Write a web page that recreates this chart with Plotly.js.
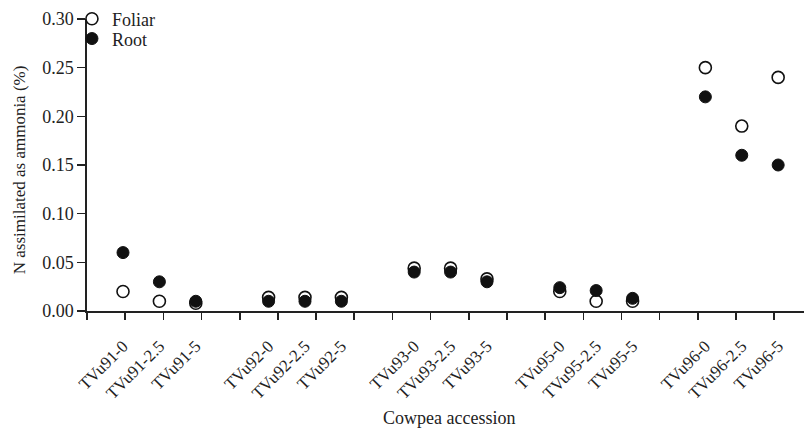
<!DOCTYPE html>
<html>
<head>
<meta charset="utf-8">
<script src="https://cdn.plot.ly/plotly-3.0.1.min.js"></script>
<style>html,body{margin:0;padding:0;background:#fff;}#chart{width:804px;height:428px;}</style>
</head>
<body>
<div id="chart"></div>
<script>
// Data
var categories = ["TVu91-0","TVu91-2.5","TVu91-5","TVu92-0","TVu92-2.5","TVu92-5",
                  "TVu93-0","TVu93-2.5","TVu93-5","TVu95-0","TVu95-2.5","TVu95-5",
                  "TVu96-0","TVu96-2.5","TVu96-5"];
var foliar = [0.020,0.010,0.008,0.014,0.014,0.014,0.044,0.044,0.033,0.020,0.010,0.010,0.250,0.190,0.240];
var root   = [0.060,0.030,0.010,0.010,0.010,0.010,0.040,0.040,0.030,0.024,0.021,0.013,0.220,0.160,0.150];
var yTicks = [0.00,0.05,0.10,0.15,0.20,0.25,0.30];

// slot positions: 3 accessions per group, one empty slot between groups
var groupSize = 3;
var pos = categories.map(function(c,i){ return i + Math.floor(i/groupSize); });

var FONT = "Liberation Serif, Times New Roman, serif";
var FS = 18;

var traces = [
  {x: pos, y: foliar, name: "Foliar", type: "scatter", mode: "markers", legend: "legend",
   marker: {symbol: "circle", size: 12, color: "#ffffff", line: {color: "#111", width: 1.6}},
   cliponaxis: false, hoverinfo: "skip"},
  {x: pos, y: root, name: "Root", type: "scatter", mode: "markers", legend: "legend2",
   marker: {symbol: "circle", size: 12, color: "#111", line: {color: "#111", width: 1}},
   cliponaxis: false, hoverinfo: "skip"},
  {x: [], y: [], xaxis: "x2", yaxis: "y", showlegend: false, hoverinfo: "skip", type: "scatter"}
];

var legendBase = {xanchor: "left", yanchor: "middle",
  font: {family: FONT, size: FS, color: "#222"},
  bgcolor: "rgba(0,0,0,0)", itemwidth: 30, borderwidth: 0};

var layout = {
  width: 804, height: 428,
  margin: {l: 87, r: 0, t: 15, b: 117},
  paper_bgcolor: "#fff", plot_bgcolor: "#fff",
  font: {family: FONT, size: FS, color: "#222"},
  showlegend: true,
  legend: Object.assign({}, legendBase, {x: -0.021, y: 1.0}),
  legend2: Object.assign({}, legendBase, {x: -0.021, y: 0.932}),
  xaxis: {
    range: [-0.989, 18.71],
    tickmode: "array", tickvals: pos, ticktext: categories,
    tickangle: -45, ticks: "outside", ticklen: 17, tickcolor: "rgba(0,0,0,0)",
    showgrid: false, zeroline: false,
    showline: true, linecolor: "#222", linewidth: 1.6,
    tickfont: {family: FONT, size: 17, color: "#222"},
    fixedrange: true
  },
  xaxis2: {
    overlaying: "x", anchor: "y", side: "bottom",
    range: [0, 18.78], tickmode: "linear", tick0: 0, dtick: 1,
    ticks: "outside", ticklen: 8, tickwidth: 1.6, tickcolor: "#222",
    showticklabels: false, showgrid: false, zeroline: false, showline: false
  },
  yaxis: {
    range: [0, 0.30],
    tickmode: "array", tickvals: yTicks, tickformat: ".2f",
    ticks: "outside", ticklen: 8, tickwidth: 1.6, tickcolor: "#222",
    showgrid: false, zeroline: false,
    showline: true, linecolor: "#222", linewidth: 1.6,
    tickfont: {family: FONT, size: FS, color: "#222"},
    fixedrange: true
  },
  annotations: [{
    text: "N assimilated as ammonia (%)", textangle: -90,
    xref: "paper", yref: "paper", x: -0.093, y: 0.483,
    xanchor: "center", yanchor: "middle", showarrow: false,
    font: {family: FONT, size: 17, color: "#222"}
  }, {
    text: "Cowpea accession",
    xref: "paper", yref: "paper", x: 0.505, y: -0.365,
    xanchor: "center", yanchor: "middle", showarrow: false,
    font: {family: FONT, size: FS, color: "#222"}
  }]
};

Plotly.newPlot("chart", traces, layout, {staticPlot: true, displayModeBar: false});
</script>
</body>
</html>
